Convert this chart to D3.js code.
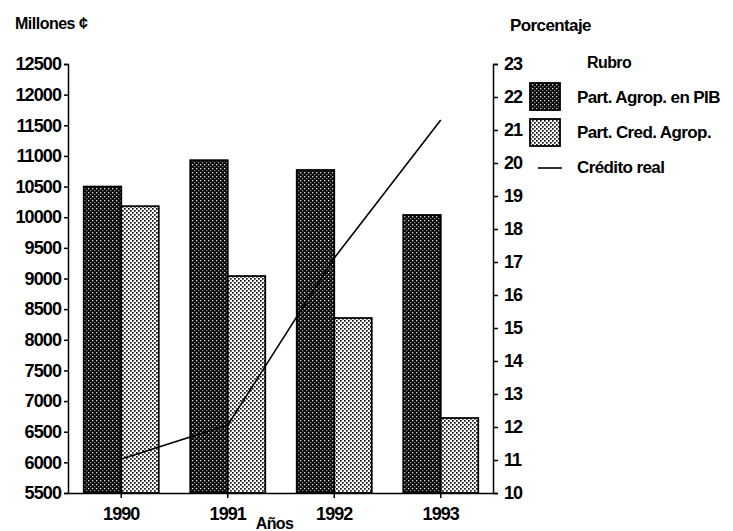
<!DOCTYPE html>
<html>
<head>
<meta charset="utf-8">
<script src="https://cdn.jsdelivr.net/npm/d3@7"></script>
<style>
    body { margin: 0; background: #fff; }
    text { font-family: "Liberation Sans", Arial, sans-serif; font-weight: bold; fill: #000; }
    .axis path, .axis line { stroke: #000; stroke-width: 1.5; }
    .axis text { font-size: 18px; letter-spacing: -0.9px; }
</style>
</head>
<body>
<div id="chart"></div>
<script>
// data
let years = ["1990", "1991", "1992", "1993"];
let partAgropPIB = [10500, 10930, 10770, 10036];   // millones ¢ (left axis)
let partCredAgrop = [10180, 9040, 8355, 6723];     // millones ¢ (left axis)
let creditoReal = [11.03, 12.06, 17.12, 21.3];      // porcentaje (right axis)
let leftTicks = d3.range(5500, 12501, 500);
let rightTicks = d3.range(10, 24, 1);
let seriesNames = ["Part. Agrop. en PIB", "Part. Cred. Agrop.", "Crédito real"];

let width = 733, height = 531;
let plot = {left: 68, right: 493, top: 64, bottom: 493};

let svg = d3.select("#chart").append("svg")
    .attr("width", width)
    .attr("height", height);

// halftone-like fills
let defs = svg.append("defs");
let dark = defs.append("pattern").attr("id", "darkFill")
    .attr("patternUnits", "userSpaceOnUse").attr("width", 4).attr("height", 4);
dark.append("rect").attr("width", 4).attr("height", 4).attr("fill", "#0a0a0a");
dark.append("rect").attr("x", 0).attr("y", 0).attr("width", 1.3).attr("height", 1.3).attr("fill", "#ddd");
dark.append("rect").attr("x", 2).attr("y", 2).attr("width", 1.3).attr("height", 1.3).attr("fill", "#888");

let light = defs.append("pattern").attr("id", "lightFill")
    .attr("patternUnits", "userSpaceOnUse").attr("width", 4).attr("height", 4);
light.append("rect").attr("width", 4).attr("height", 4).attr("fill", "#fff");
light.append("rect").attr("x", 0).attr("y", 0).attr("width", 1.7).attr("height", 1.7).attr("fill", "#111");
light.append("rect").attr("x", 2).attr("y", 2).attr("width", 1.7).attr("height", 1.7).attr("fill", "#111");

// scales
let x = d3.scaleBand().domain(years).range([plot.left, plot.right + 1]);
let x1 = d3.scaleBand().domain([0, 1]).range([0, x.bandwidth()]).paddingOuter(0.42);
let yLeft = d3.scaleLinear().domain([5500, 12500]).range([plot.bottom, plot.top]);
let yRight = d3.scaleLinear().domain([10, 23]).range([plot.bottom, plot.top]);

// bars
let barData = [];
years.forEach((yr, i) => {
    barData.push({year: yr, k: 0, value: partAgropPIB[i]});
    barData.push({year: yr, k: 1, value: partCredAgrop[i]});
});

svg.append("g").selectAll("rect")
    .data(barData)
    .enter().append("rect")
    .attr("x", d => x(d.year) + x1(d.k))
    .attr("y", d => yLeft(d.value))
    .attr("width", x1.bandwidth())
    .attr("height", d => yLeft(5500) - yLeft(d.value))
    .attr("fill", d => d.k === 0 ? "url(#darkFill)" : "url(#lightFill)")
    .attr("stroke", "#000")
    .attr("stroke-width", 1.8);

// line
let line = d3.line()
    .x((d, i) => x(years[i]) + x.bandwidth() / 2)
    .y(d => yRight(d));

svg.append("path")
    .datum(creditoReal)
    .attr("d", line)
    .attr("fill", "none")
    .attr("stroke", "#000")
    .attr("stroke-width", 1.6);

// axes
svg.append("g").attr("class", "axis")
    .attr("transform", `translate(${plot.left},0)`)
    .call(d3.axisLeft(yLeft).tickValues(leftTicks).tickFormat(d3.format("d"))
        .tickSize(4).tickSizeOuter(4).tickPadding(3));

svg.append("g").attr("class", "axis")
    .attr("transform", `translate(${plot.right},0)`)
    .call(d3.axisRight(yRight).tickValues(rightTicks).tickSize(5).tickSizeOuter(5).tickPadding(6));

let xAxis = svg.append("g").attr("class", "axis")
    .attr("transform", `translate(0,${plot.bottom})`)
    .call(d3.axisBottom(x).tickSize(5).tickSizeOuter(0).tickPadding(9));

// titles
svg.append("text").attr("x", 15).attr("y", 29)
    .attr("font-size", "16px").attr("letter-spacing", "-0.5px")
    .text("Millones ¢");
svg.append("text").attr("x", 510).attr("y", 31)
    .attr("font-size", "17px").attr("letter-spacing", "-0.6px")
    .text("Porcentaje");
svg.append("text").attr("x", (plot.left + plot.right) / 2 - 6).attr("y", 529)
    .attr("text-anchor", "middle")
    .attr("font-size", "16px").attr("letter-spacing", "-0.6px")
    .text("Años");

// legend
let legend = svg.append("g");
legend.append("text").attr("x", 587).attr("y", 68)
    .attr("font-size", "16px").attr("letter-spacing", "-0.6px").text("Rubro");

legend.append("rect").attr("x", 530).attr("y", 83).attr("width", 30).attr("height", 27)
    .attr("fill", "url(#darkFill)").attr("stroke", "#000").attr("stroke-width", 1.8);
legend.append("rect").attr("x", 530).attr("y", 119).attr("width", 30).attr("height", 27)
    .attr("fill", "url(#lightFill)").attr("stroke", "#000").attr("stroke-width", 1.8);
legend.append("line").attr("x1", 538).attr("x2", 562).attr("y1", 168).attr("y2", 168)
    .attr("stroke", "#000").attr("stroke-width", 1.6);

legend.selectAll("text.item")
    .data(seriesNames)
    .enter().append("text")
    .attr("class", "item")
    .attr("x", 577)
    .attr("y", (d, i) => 103 + i * 35)
    .attr("font-size", "17px")
    .attr("letter-spacing", "-0.6px")
    .text(d => d);
</script>
</body>
</html>
